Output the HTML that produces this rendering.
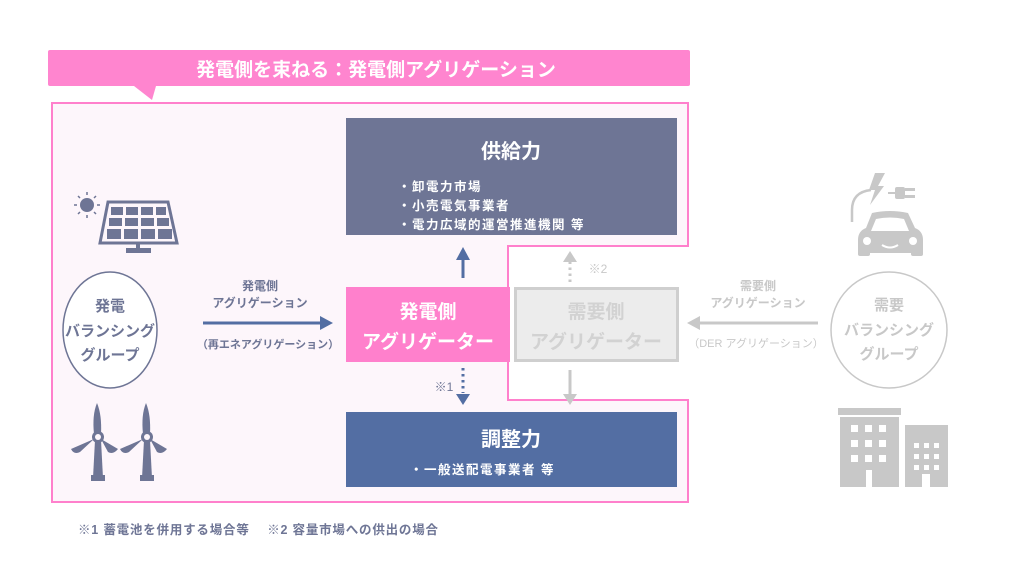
<!DOCTYPE html>
<html><head><meta charset="utf-8"><style>
html,body{margin:0;padding:0;background:#fff;}
svg{display:block;font-family:"Liberation Sans","Noto Sans CJK JP",sans-serif;font-weight:bold;}
</style></head><body>
<svg width="1024" height="586" viewBox="0 0 1024 586" xmlns="http://www.w3.org/2000/svg">
<rect width="1024" height="586" fill="#fff"/>
<rect x="48" y="50" width="642" height="36" rx="2" fill="#ff85cf"/>
<polygon points="134,86 156,86 152,100" fill="#ff85cf"/>
<text x="376" y="76" font-size="19" fill="#fff" text-anchor="middle">発電側を束ねる：発電側アグリゲーション</text>
<polygon points="52,103 688,103 688,246 508,246 508,400 688,400 688,502 52,502" fill="#fdf6fb" stroke="#ff80cc" stroke-width="2"/>
<rect x="346" y="118" width="331" height="117" fill="#6e7595"/>
<text x="511" y="158" font-size="20" fill="#fff" text-anchor="middle">供給力</text>
<g font-size="12.5" fill="#fff" letter-spacing="1.5">
<text x="398" y="191">・卸電力市場</text>
<text x="398" y="210">・小売電気事業者</text>
<text x="398" y="229">・電力広域的運営推進機関 等</text>
</g>
<line x1="463" y1="278" x2="463" y2="258" stroke="#536ea3" stroke-width="3"/>
<polygon points="456,260 470,260 463,247" fill="#536ea3"/>
<rect x="346" y="287" width="164" height="75" fill="#ff80cc"/>
<text x="428" y="318" font-size="19" fill="#fff" text-anchor="middle">発電側</text>
<text x="428" y="348" font-size="19" fill="#fff" text-anchor="middle">アグリゲーター</text>
<rect x="515.5" y="288.5" width="162" height="72" fill="#ececec" stroke="#cfcfcf" stroke-width="3"/>
<text x="596" y="318" font-size="19" fill="#d2d2d2" text-anchor="middle">需要側</text>
<text x="596" y="348" font-size="19" fill="#d2d2d2" text-anchor="middle">アグリゲーター</text>
<rect x="346" y="412" width="331" height="75" fill="#536ea3"/>
<text x="511" y="446" font-size="20" fill="#fff" text-anchor="middle">調整力</text>
<text x="410" y="474" font-size="12.5" fill="#fff" letter-spacing="1.5">・一般送配電事業者 等</text>
<line x1="463" y1="368" x2="463" y2="393" stroke="#536ea3" stroke-width="3" stroke-dasharray="2.5,3.5"/>
<polygon points="456,394 470,394 463,405" fill="#536ea3"/>
<text x="444" y="391" font-size="12" fill="#6e7595" text-anchor="middle" font-weight="normal">※1</text>
<line x1="570" y1="282" x2="570" y2="262" stroke="#c8c8c8" stroke-width="3" stroke-dasharray="2.5,3.5"/>
<polygon points="563,262 577,262 570,251" fill="#c8c8c8"/>
<text x="598" y="273" font-size="12" fill="#c8c8c8" text-anchor="middle" font-weight="normal">※2</text>
<line x1="570" y1="370" x2="570" y2="394" stroke="#c8c8c8" stroke-width="3"/>
<polygon points="563,394 577,394 570,405" fill="#c8c8c8"/>
<ellipse cx="110" cy="330" rx="47" ry="58" fill="#fff" stroke="#6e7595" stroke-width="1.5"/>
<g font-size="15" fill="#6e7595" text-anchor="middle">
<text x="110" y="311">発電</text>
<text x="110" y="336">バランシング</text>
<text x="110" y="360">グループ</text>
</g>
<text x="260" y="290" font-size="12" fill="#6e7595" text-anchor="middle">発電側</text>
<text x="260" y="307" font-size="12" fill="#6e7595" text-anchor="middle">アグリゲーション</text>
<line x1="203" y1="323" x2="322" y2="323" stroke="#536ea3" stroke-width="3"/>
<polygon points="320,316 320,330 333,323" fill="#536ea3"/>
<text x="268" y="348" font-size="11" fill="#6e7595" text-anchor="middle">（再エネアグリゲーション）</text>
<circle cx="889" cy="330" r="58" fill="#fff" stroke="#c8c8c8" stroke-width="1.5"/>
<g font-size="15" fill="#c8c8c8" text-anchor="middle">
<text x="889" y="310">需要</text>
<text x="889" y="335">バランシング</text>
<text x="889" y="359">グループ</text>
</g>
<text x="758" y="290" font-size="12" fill="#c8c8c8" text-anchor="middle">需要側</text>
<text x="758" y="307" font-size="12" fill="#c8c8c8" text-anchor="middle">アグリゲーション</text>
<line x1="818" y1="323" x2="698" y2="323" stroke="#c8c8c8" stroke-width="3"/>
<polygon points="700,316 700,330 687,323" fill="#c8c8c8"/>
<text x="756" y="347" font-size="11" fill="#c8c8c8" text-anchor="middle" font-weight="normal">（DER アグリゲーション）</text>
<g fill="#6e7595">
<circle cx="87" cy="205" r="7"/>
<g stroke="#6e7595" stroke-width="1.5">
<line x1="87" y1="192" x2="87" y2="195"/><line x1="87" y1="215" x2="87" y2="218"/>
<line x1="74" y1="205" x2="77" y2="205"/><line x1="97" y1="205" x2="100" y2="205"/>
<line x1="78" y1="196" x2="80" y2="198"/><line x1="94" y1="212" x2="96" y2="214"/>
<line x1="78" y1="214" x2="80" y2="212"/><line x1="94" y1="198" x2="96" y2="196"/>
</g>
<polygon points="108,202 168,202 177,243 100,243" fill="none" stroke="#6e7595" stroke-width="3"/>
<rect x="136" y="243" width="4" height="8"/>
<rect x="126" y="248" width="25" height="5"/>
<rect x="111" y="207" width="12" height="8"/><rect x="126" y="207" width="12" height="8"/><rect x="141" y="207" width="12" height="8"/><rect x="156" y="207" width="10" height="8"/>
<rect x="109" y="218" width="13" height="8"/><rect x="125" y="218" width="13" height="8"/><rect x="141" y="218" width="13" height="8"/><rect x="157" y="218" width="12" height="8"/>
<rect x="107" y="229" width="14" height="10"/><rect x="124" y="229" width="14" height="10"/><rect x="141" y="229" width="14" height="10"/><rect x="158" y="229" width="14" height="10"/>
</g>
<g fill="#6e7595">
<g id="wt">
<polygon points="95,440 101,440 103,478 93,478"/>
<rect x="91" y="475" width="14" height="6"/>
<path d="M94,434 Q92,415 97,403 Q102,415 101,434 Z"/>
<path d="M101,439 L118,449 Q113,455 108,452 Z"/>
<path d="M94,439 L71,449 Q74,455 80,452 Z"/>
<circle cx="98" cy="437" r="6"/>
<circle cx="98" cy="437" r="3" fill="#fdf6fb"/>
</g>
<use href="#wt" x="49"/>
</g>
<g fill="#c8c8c8">
<polygon points="875,173 885,173 878,186 884,186 870,205 875,190 869,190"/>
<path d="M871,190 Q852,192 852,210 L852,222" fill="none" stroke="#c8c8c8" stroke-width="2.5"/>
<line x1="888" y1="193" x2="895" y2="193" stroke="#c8c8c8" stroke-width="2"/>
<rect x="895" y="187" width="10" height="12" rx="2"/>
<rect x="905" y="188" width="10" height="3"/><rect x="905" y="195" width="10" height="3"/>
<path d="M872,213 Q890,209 908,213 L915,228 Q923,231 923,240 L923,253 L858,253 L858,240 Q858,231 866,228 Z"/>
<rect x="858" y="250" width="12" height="6" rx="2"/><rect x="911" y="250" width="12" height="6" rx="2"/>
<path d="M876,219 Q890,216 904,219 L909,231 L871,231 Z" fill="#fff"/>
<circle cx="867" cy="241" r="4" fill="#fff"/><circle cx="913" cy="241" r="4" fill="#fff"/>
<path d="M882,245 Q890,250 898,245" fill="none" stroke="#fff" stroke-width="2"/>
</g>
<g fill="#c8c8c8">
<rect x="838" y="408" width="63" height="7"/>
<rect x="840" y="417" width="59" height="70"/>
<rect x="905" y="425" width="43" height="62"/>
<g fill="#fff">
<rect x="851" y="425" width="7" height="7"/><rect x="865" y="425" width="7" height="7"/><rect x="879" y="425" width="7" height="7"/>
<rect x="851" y="440" width="7" height="7"/><rect x="865" y="440" width="7" height="7"/><rect x="879" y="440" width="7" height="7"/>
<rect x="851" y="455" width="7" height="7"/><rect x="865" y="455" width="7" height="7"/><rect x="879" y="455" width="7" height="7"/>
<rect x="866" y="470" width="6" height="17"/>
<rect x="914" y="443" width="5" height="5"/><rect x="924" y="443" width="5" height="5"/><rect x="934" y="443" width="5" height="5"/>
<rect x="914" y="454" width="5" height="5"/><rect x="924" y="454" width="5" height="5"/><rect x="934" y="454" width="5" height="5"/>
<rect x="914" y="465" width="5" height="5"/><rect x="924" y="465" width="5" height="5"/><rect x="934" y="465" width="5" height="5"/>
<rect x="922" y="474" width="8" height="13"/>
</g>
</g>
<text x="78" y="534" font-size="12.5" fill="#6e7595" letter-spacing="0.8">※1  蓄電池を併用する場合等　 ※2  容量市場への供出の場合</text>
</svg>
</body></html>
